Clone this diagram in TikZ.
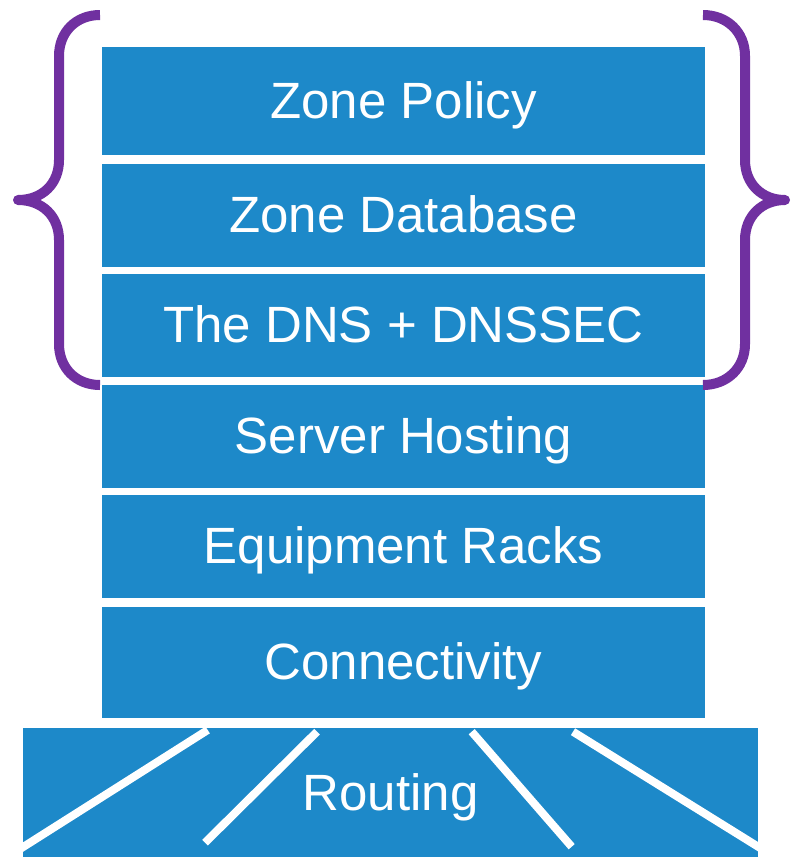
\documentclass[tikz,border=0pt]{standalone}
\usepackage{fontspec}
\setmainfont{Liberation Sans}
\definecolor{layerblue}{RGB}{29,137,201}
\definecolor{bracepurple}{RGB}{112,48,160}
\begin{document}
\begin{tikzpicture}[x=1pt,y=-1pt,
  layer/.style={rectangle, fill=layerblue, draw=none, inner sep=0pt,
    minimum width=603pt, text=white, text height=34pt, text depth=0pt,
    font=\fontsize{51}{60}\selectfont},
  bracestroke/.style={draw=bracepurple, line width=10pt, line join=round, line cap=butt},
  slash/.style={draw=white, line width=8pt, line cap=butt}]
\useasboundingbox (0,0) rectangle (799,857);
\node[layer, minimum height=108pt] (policy) at (403.5,101) {Zone Policy};
\node[layer, minimum height=103pt] (database) at (403.5,215.5) {Zone Database};
\node[layer, minimum height=103pt] (dns) at (403.5,325.5) {The DNS + DNSSEC};
\node[layer, minimum height=103pt] (hosting) at (403.5,436.5) {Server Hosting};
\node[layer, minimum height=103pt] (racks) at (403.5,546.5) {Equipment Racks};
\node[layer, minimum height=111pt] (conn) at (403.5,662.5) {Connectivity};
\node[layer, minimum width=735pt, minimum height=129pt] (routing) at (390.5,792.5) {};
\begin{scope}
  \clip (routing.north west) rectangle (routing.south east);
  \draw[slash] (207.7,730) -- (20,849);
  \draw[slash] (317,731.7) -- (205,842.7);
  \draw[slash] (471.7,731.7) -- (571.7,846.7);
  \draw[slash] (573,731.7) -- (761,848.5);
\end{scope}
\node[layer, fill=none, minimum width=0pt, minimum height=0pt] (routingtext) at ([yshift=-1pt]routing.center) {Routing};
% left brace
\draw[bracestroke] (100,15) .. controls (76,15) and (59,32) .. (59,56)
  -- (59,160) .. controls (59,184) and (42,200) .. (18,200)
  .. controls (42,200) and (59,216) .. (59,240)
  -- (59,344) .. controls (59,368) and (76,385) .. (100,385);
% right brace
\draw[bracestroke] (703,15) .. controls (727,15) and (745,32) .. (745,56)
  -- (745,160) .. controls (745,184) and (762,200) .. (785,200)
  .. controls (762,200) and (745,216) .. (745,240)
  -- (745,344) .. controls (745,368) and (727,385) .. (703,385);
\end{tikzpicture}
\end{document}
